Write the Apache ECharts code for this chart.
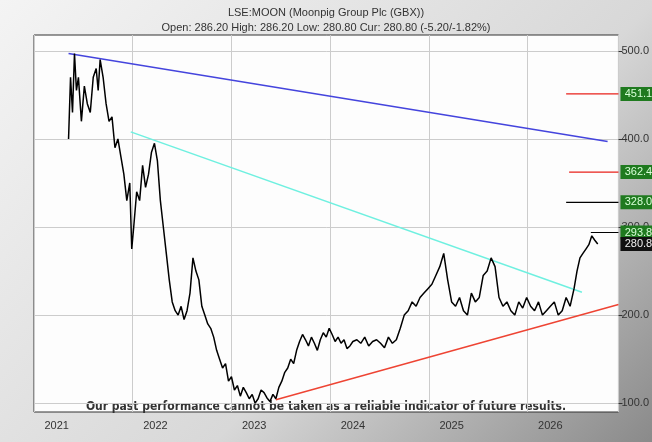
<!DOCTYPE html>
<html>
<head>
<meta charset="UTF-8">
<title>LSE:MOON</title>
<script src="https://cdn.jsdelivr.net/npm/echarts@6/dist/echarts.min.js"></script>
<style>
  html, body { margin: 0; padding: 0; }
  body { width: 652px; height: 442px; background: linear-gradient(135deg, #f4f4f4 0%, #d8d8d8 60%, #8a8a8a 100%); }
  #main { width: 652px; height: 442px; }
</style>
</head>
<body>
<div id="main"></div>
<script>
// decimal years and closing prices (GBX)
var years = [2021.12,2021.14,2021.16,2021.18,2021.20,2021.22,2021.25,2021.28,2021.31,2021.34,2021.37,2021.40,2021.42,2021.44,2021.47,2021.50,2021.53,2021.56,2021.59,2021.62,2021.65,2021.68,2021.71,2021.74,2021.76,2021.78,2021.81,2021.84,2021.87,2021.90,2021.93,2021.96,2021.99,2022.02,2022.05,2022.08,2022.11,2022.14,2022.17,2022.20,2022.23,2022.26,2022.29,2022.32,2022.35,2022.38,2022.41,2022.44,2022.47,2022.50,2022.53,2022.56,2022.59,2022.62,2022.65,2022.68,2022.71,2022.74,2022.77,2022.80,2022.83,2022.86,2022.89,2022.92,2022.95,2022.98,2023.01,2023.04,2023.07,2023.10,2023.13,2023.16,2023.19,2023.22,2023.25,2023.28,2023.31,2023.34,2023.37,2023.40,2023.43,2023.46,2023.49,2023.52,2023.55,2023.58,2023.61,2023.64,2023.67,2023.70,2023.73,2023.76,2023.79,2023.82,2023.85,2023.88,2023.91,2023.94,2023.97,2024.00,2024.04,2024.08,2024.12,2024.16,2024.20,2024.24,2024.28,2024.32,2024.36,2024.40,2024.44,2024.48,2024.52,2024.56,2024.60,2024.64,2024.68,2024.72,2024.76,2024.80,2024.84,2024.88,2024.92,2024.96,2025.00,2025.04,2025.08,2025.12,2025.16,2025.20,2025.24,2025.28,2025.32,2025.36,2025.40,2025.44,2025.48,2025.52,2025.56,2025.60,2025.64,2025.68,2025.72,2025.76,2025.80,2025.84,2025.88,2025.92,2025.96,2026.00,2026.04,2026.08,2026.12,2026.16,2026.20,2026.24,2026.27,2026.30,2026.33,2026.36,2026.39,2026.42,2026.45,2026.48,2026.50,2026.52];
var prices = [400,470,430,497,455,470,420,460,440,430,470,480,455,490,470,440,420,425,390,400,380,360,330,350,275,300,340,330,370,345,360,385,395,375,330,300,270,240,215,205,200,210,195,205,225,265,250,240,210,200,190,185,175,160,150,140,145,125,130,115,120,108,118,112,105,110,100,105,115,112,106,102,110,105,118,125,135,140,150,145,160,170,178,172,165,175,168,160,172,180,175,185,178,170,175,168,172,162,165,170,172,168,175,165,170,172,168,163,175,168,172,185,200,205,215,210,220,225,230,235,245,255,270,240,215,210,220,205,200,225,215,220,245,250,265,255,220,210,215,205,200,215,208,220,210,205,215,200,205,210,215,200,205,220,210,230,250,265,270,275,280,290,285,280.8];

var blueLine = [[2021.12, 497], [2026.58, 397]];
var cyanLine = [[2021.75, 408], [2026.32, 226]];
var redLine = [[2023.22, 104], [2026.69, 212]];
var levelValues = [451.1, 362.4, 328.0, 293.8];
var levelColors = ['#e8201a', '#e8201a', '#000000', '#000000'];
var levelStart = [2026.16, 2026.19, 2026.16, 2026.41];
var yTicks = [100, 200, 300, 400, 500];

var chart = echarts.init(document.getElementById('main'));

var series = [{
  type: 'line',
  data: years.map(function (y, i) { return [y, prices[i]]; }),
  showSymbol: false,
  lineStyle: { color: '#000', width: 1.5 },
  z: 5
}, {
  type: 'line', data: blueLine, showSymbol: false, lineStyle: { color: '#4444dd', width: 1.5 }, z: 3
}, {
  type: 'line', data: cyanLine, showSymbol: false, lineStyle: { color: '#6ff0e0', width: 1.5 }, z: 3
}, {
  type: 'line', data: redLine, showSymbol: false, lineStyle: { color: '#ee4433', width: 1.5 }, z: 6
}];

levelValues.forEach(function (v, i) {
  series.push({
    type: 'line', data: [[levelStart[i], v], [2026.69, v]], showSymbol: false,
    lineStyle: { color: levelColors[i], width: 1.2 },
    markPoint: {
      symbol: 'rect', symbolSize: [36, 14], symbolOffset: [20, 0],
      data: [{ coord: [2026.69, v], value: v.toFixed(1) }],
      itemStyle: { color: '#1f7a1f' },
      label: { color: '#d8ffd8', fontSize: 11, fontFamily: 'Liberation Sans' }
    },
    z: 4
  });
});
// current price box
series.push({
  type: 'line', data: [], showSymbol: false,
  markPoint: {
    symbol: 'rect', symbolSize: [36, 14], symbolOffset: [20, 0],
    data: [{ coord: [2026.69, 280.8], value: '280.8' }],
    itemStyle: { color: '#111' },
    label: { color: '#eee', fontSize: 11, fontFamily: 'Liberation Sans' }
  }
});

chart.setOption({
  animation: false,
  title: {
    text: 'LSE:MOON (Moonpig Group Plc (GBX))',
    subtext: 'Open: 286.20 High: 286.20 Low: 280.80 Cur: 280.80 (-5.20/-1.82%)',
    left: 'center', top: 2, itemGap: 4,
    textStyle: { fontSize: 11, fontWeight: 'normal', color: '#333', fontFamily: 'Liberation Sans' },
    subtextStyle: { fontSize: 11, color: '#333', fontFamily: 'Liberation Sans' }
  },
  graphic: [{
    type: 'text', left: 'center', top: 401,
    style: { text: 'Our past performance cannot be taken as a reliable indicator of future results.',
      fontSize: 12, fontWeight: 'bold', fill: '#333', fontFamily: 'DejaVu Sans Condensed' }
  }],
  grid: { left: 34, right: 29, top: 35, bottom: 30, backgroundColor: '#fdfdfd', show: true, borderColor: '#333', borderWidth: 1 },
  xAxis: {
    type: 'value', min: 2020.77, max: 2026.69, interval: 1,
    axisLine: { show: false }, axisTick: { show: false },
    splitLine: { lineStyle: { color: '#ccc' } },
    axisLabel: {
      color: '#333', fontSize: 11, fontFamily: 'Liberation Sans',
      customValues: [2021, 2022, 2023, 2024, 2025, 2026],
      formatter: function (v) { return Math.round(v); }
    }
  },
  yAxis: {
    type: 'value', position: 'right', min: 90, max: 518,
    axisLine: { show: false },
    axisTick: { show: true, customValues: yTicks, length: 4, inside: false, lineStyle: { color: '#333' } },
    splitLine: { show: true, lineStyle: { color: '#ccc' } },
    axisLabel: {
      color: '#333', fontSize: 11, fontFamily: 'Liberation Sans', margin: 3,
      customValues: yTicks, formatter: function (v) { return v.toFixed(1); }
    }
  },
  series: series
});
</script>
</body>
</html>
